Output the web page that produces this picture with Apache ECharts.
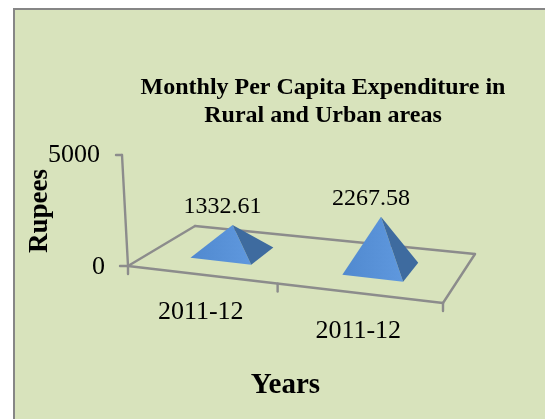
<!DOCTYPE html>
<html><head><meta charset="utf-8">
<style>
html,body{margin:0;padding:0;background:#fff;overflow:hidden;width:545px;height:419px}
#frame{position:absolute;left:13px;top:8px;width:600px;height:500px;background:#d8e3bc;border:2px solid #868686}
#c{position:absolute;left:0;top:0;width:545px;height:419px}
</style>
<script src="https://cdn.jsdelivr.net/npm/echarts@6/dist/echarts.min.js"></script>
</head><body><div id="frame"></div><div id="c"></div>
<script>
const categories = ['2011-12', '2011-12'];
const values = [1332.61, 2267.58];
const yTicks = [0, 5000];
const titleLines = ['Monthly Per Capita Expenditure in', 'Rural and Urban areas'];
const xName = 'Years', yName = 'Rupees';

const SERIF = '"Liberation Serif","Times New Roman",serif';
const GREY = '#8c8c8c';
const ch = echarts.init(document.getElementById('c'), null, {renderer: 'canvas'});

// oblique floor: corners as pixel offsets relative to the grid's front edge
function floorOf(r) {
  const F0 = [r.x, r.y + r.height - 1];
  const F1 = [r.x + r.width, r.y + r.height + 36];
  const B0 = [r.x + 67, r.y + r.height - 41];
  const B1 = [r.x + 347, r.y + r.height - 13];
  const lerp = (a, b, k) => [a[0] + (b[0] - a[0]) * k, a[1] + (b[1] - a[1]) * k];
  return (t, d) => lerp(lerp(F0, F1, t), lerp(B0, B1, t), d);
}
const line = (a, b) => ({type: 'line', shape: {x1: a[0], y1: a[1], x2: b[0], y2: b[1]},
  style: {stroke: GREY, lineWidth: 2.4, lineCap: 'round'}});
const poly = (pts, fill) => ({type: 'polygon', shape: {points: pts}, style: {fill}});

function renderFrame(params, api) {
  const r = params.coordSys;
  const P = floorOf(r);
  const top = api.coord([0, yTicks[1]])[1];
  const kids = [
    line(P(0, 0), P(1, 0)), line(P(1, 0), P(1, 1)), line(P(1, 1), P(0, 1)), line(P(0, 1), P(0, 0)),
    line(P(0, 0), [r.x - 6, top]),
    line([r.x - 12, top], [r.x - 6, top]),
    line([r.x - 8, P(0, 0)[1]], P(0, 0))
  ];
  [0, 0.475, 1].forEach(t => {
    const p = P(t, 0);
    kids.push(line(p, [p[0], p[1] + 8]));
  });
  categories.forEach((c, i) => {
    const t = (api.coord([i, 0])[0] - r.x) / r.width;
    const p = P(t, 0);
    kids.push({type: 'text', style: {text: c, x: p[0] - 6, y: p[1] + 37, align: 'center', verticalAlign: 'middle',
      fontFamily: SERIF, fontSize: 26, fill: '#000'}});
  });
  return {type: 'group', children: kids};
}

function renderPyramid(params, api) {
  const r = params.coordSys;
  const P = floorOf(r);
  const cx = api.coord([api.value(0), 0]);
  const apexPx = api.coord([api.value(0), api.value(1)]);
  const t = (cx[0] - r.x) / r.width - 0.015;
  const band = api.size([1, 0])[0];
  const hw = band * 0.2 / r.width, hd = 0.2;
  const dc = 0.52;
  const c = P(t, dc);
  const k = 0.88 + 0.2 * t;
  const apex = [c[0], c[1] + (apexPx[1] - cx[1]) * k];
  const L = P(t - hw, dc - hd), Fr = P(t + hw, dc - hd), R = P(t + hw, dc + hd);
  return {type: 'group', children: [
    poly([L, Fr, apex], {type: 'linear', x: 0, y: 0, x2: 1, y2: 0, colorStops: [{offset: 0, color: '#5089cf'}, {offset: 1, color: '#5f98de'}]}),
    poly([Fr, R, apex], '#3e6b9f'),
    {type: 'text', style: {text: String(api.value(1)), x: apex[0] - 10, y: apex[1] - 18, align: 'center', verticalAlign: 'middle',
      fontFamily: SERIF, fontSize: 24, fill: '#000'}}
  ]};
}

ch.setOption({
  animation: false,
  backgroundColor: 'transparent',
  title: {
    text: titleLines.join('\n'), left: 318, top: 69, textAlign: 'center',
    textStyle: {fontFamily: SERIF, fontWeight: 'bold', fontSize: 24, lineHeight: 28, color: '#000'}
  },
  grid: {left: 128, width: 315, top: 155, height: 112},
  xAxis: {
    type: 'category', data: categories,
    axisLine: {show: false}, axisTick: {show: false}, axisLabel: {show: false}, splitLine: {show: false},
    name: xName, nameLocation: 'middle', nameGap: 104,
    nameTextStyle: {fontFamily: SERIF, fontWeight: 'bold', fontSize: 29, color: '#000'}
  },
  yAxis: {
    type: 'value', min: yTicks[0], max: yTicks[1], interval: yTicks[1],
    axisLine: {show: false}, axisTick: {show: false}, splitLine: {show: false},
    axisLabel: {margin: 23, fontFamily: SERIF, fontSize: 26, color: '#000',
      formatter: v => v === 0 ? '{z|0}' : '{a|' + v + '}',
      rich: {z: {fontFamily: SERIF, fontSize: 26, color: '#000'},
             a: {fontFamily: SERIF, fontSize: 26, color: '#000', padding: [0, 5, 0, 0]}}},
    name: yName, nameLocation: 'middle', nameGap: 74, nameRotate: 90, nameMoveOverlap: false,
    nameTextStyle: {fontFamily: SERIF, fontWeight: 'bold', fontSize: 27, color: '#000'}
  },
  series: [
    {type: 'custom', coordinateSystem: 'cartesian2d', data: [[0, 0]], renderItem: renderFrame, z: 1, silent: true},
    {type: 'custom', coordinateSystem: 'cartesian2d', data: values.map((v, i) => [i, v]),
      encode: {x: 0, y: 1}, renderItem: renderPyramid, z: 2, clip: false}
  ]
});
</script></body></html>
